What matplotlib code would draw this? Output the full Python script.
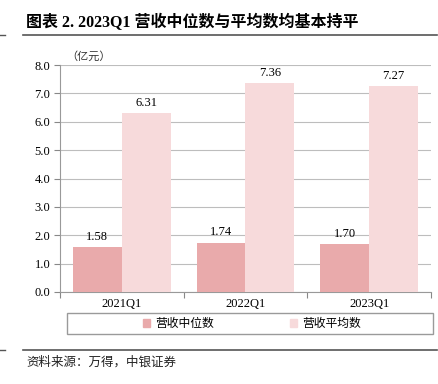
import numpy as np
import matplotlib
matplotlib.use("Agg")
import matplotlib.pyplot as plt
from matplotlib.lines import Line2D

categories = ["2021Q1", "2022Q1", "2023Q1"]
median_rev = [1.58, 1.74, 1.70]
mean_rev = [6.31, 7.36, 7.27]
series_names = ["营收中位数", "营收平均数"]
yticks = [0.0, 1.0, 2.0, 3.0, 4.0, 5.0, 6.0, 7.0, 8.0]

SERIF = ["Liberation Serif", "Noto Sans CJK SC"]
CJK = ["Noto Sans CJK SC", "DejaVu Sans"]
c_med = "#E9AAAB"
c_mean = "#F7DADB"

fig = plt.figure(figsize=(4.39, 3.84), dpi=100)
W, H = 439, 384

def fx(px):
    return px / W

def fy(py):
    return 1 - py / H

ax = fig.add_axes([fx(60), fy(292), fx(431) - fx(60), fy(65) - fy(292)])

x = np.arange(len(categories))
w = 0.395
b1 = ax.bar(x - w / 2, median_rev, w, color=c_med, zorder=3)
b2 = ax.bar(x + w / 2, mean_rev, w, color=c_mean, zorder=3)

for bars, vals in [(b1, median_rev), (b2, mean_rev)]:
    for r, v in zip(bars, vals):
        ax.annotate(f"{v:.2f}", (r.get_x() + r.get_width() / 2, v),
                    xytext=(0, 3), textcoords="offset points",
                    ha="center", va="bottom", fontsize=9, family=SERIF)

ax.set_xlim(-0.5, len(categories) - 0.5)
ax.set_ylim(0, 8)
ax.set_yticks(yticks)
ax.set_yticklabels([f"{t:.1f}" for t in yticks], family=SERIF, fontsize=9)
ax.yaxis.grid(True, color="#BDBDBD", linewidth=0.8, zorder=0)
ax.set_axisbelow(True)

# category ticks on the boundaries, labels centred
ax.set_xticks(np.arange(len(categories) + 1) - 0.5)
ax.set_xticklabels([])
ax.set_xticks(x, minor=True)
ax.set_xticklabels(categories, minor=True, family=SERIF, fontsize=9)
ax.tick_params(axis="x", which="minor", length=0, pad=4)
ax.tick_params(axis="x", which="major", length=4, color="#888888", direction="out")
ax.tick_params(axis="y", length=4, color="#888888", direction="out", pad=3)

for s in ["top", "right"]:
    ax.spines[s].set_visible(False)
for s in ["left", "bottom"]:
    ax.spines[s].set_color("#999999")
    ax.spines[s].set_linewidth(0.8)

# unit label
fig.text(fx(66), fy(56), "（亿元）", family=CJK, fontsize=8, va="center", ha="left",
         color="#333333")

# title
fig.text(fx(26), fy(23), "图表 2. 2023Q1 营收中位数与平均数均基本持平",
         family=SERIF, fontsize=11.5, fontweight="bold", va="center", ha="left")
fig.add_artist(Line2D([fx(23), fx(437)], [fy(35), fy(35)], color="#555555", lw=1.2))
fig.add_artist(Line2D([0, fx(5)], [fy(35), fy(35)], color="#555555", lw=1.0))

# legend with its own box
fig.add_artist(plt.Rectangle((fx(67), fy(334)), fx(433) - fx(67), fy(313) - fy(334),
                             transform=fig.transFigure, fill=False,
                             edgecolor="#9A9A9A", lw=1.0))
handles = [plt.Rectangle((0, 0), 1, 1, color=c_med), plt.Rectangle((0, 0), 1, 1, color=c_mean)]
leg = fig.legend(handles, series_names, loc="center",
                 bbox_to_anchor=(fx(252), fy(323.5)), ncol=2, frameon=False,
                 prop={"family": CJK, "size": 8.5}, handlelength=0.6, handleheight=0.6,
                 handletextpad=0.4, columnspacing=6.5)

# source
fig.add_artist(Line2D([fx(23), fx(437)], [fy(350), fy(350)], color="#555555", lw=1.2))
fig.add_artist(Line2D([0, fx(5)], [fy(350), fy(350)], color="#555555", lw=1.0))
fig.text(fx(26), fy(362), "资料来源：万得，中银证券", family=CJK, fontsize=9,
         va="center", ha="left", style="italic", color="#222222")

fig.savefig("out.png", dpi=100)
